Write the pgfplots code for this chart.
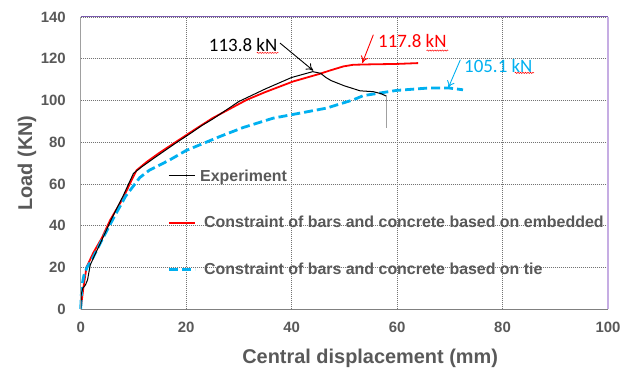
\documentclass[border=0pt]{standalone}
\usepackage{pgfplots}
\pgfplotsset{compat=1.18}
\usepackage{fontspec}
\setmainfont{Liberation Sans}
\newfontfamily\calibri{Carlito}
\usetikzlibrary{arrows.meta,decorations.pathmorphing}
\definecolor{txtgray}{HTML}{595959}
\definecolor{skyb}{HTML}{00B0F0}
\definecolor{purp}{HTML}{7A5AAE}
\definecolor{lav}{HTML}{C6ADE3}
\definecolor{axgray}{HTML}{A0A0A0}
\begin{document}
\begin{tikzpicture}
\path[use as bounding box] (-80.7bp,-63bp) rectangle (553.3bp,309bp);
\begin{axis}[
  scale only axis, width=527.3bp, height=292bp,
  at={(0,0)}, anchor=south west,
  xmin=0, xmax=100, ymin=0, ymax=140,
  xtick={0,20,...,100}, ytick={0,20,...,140},
  major tick length=0pt,
  grid=major,
  grid style={line width=0.6bp, dash pattern=on 1bp off 1bp, color=black!55},
  axis line style={draw=none},
  clip=false,
  /pgf/number format/assume math mode=true,
  tick label style={font=\fontsize{15}{18}\selectfont\bfseries, text=txtgray},
  xticklabel style={inner sep=0pt, anchor=center, yshift=-18bp},
  yticklabel style={inner sep=0pt, anchor=east, xshift=-14.7bp},
  xlabel={Central displacement (mm)},
  xlabel style={at={(axis description cs:0.549,-0.168)}, anchor=center, font=\fontsize{20}{24}\selectfont\bfseries, text=txtgray},
  ylabel={Load (KN)},
  ylabel style={at={(axis description cs:-0.102,0.5)}, anchor=center, font=\fontsize{20}{24}\selectfont\bfseries, text=txtgray},
  legend style={at={(axis cs:16.4,67)}, anchor=north west, draw=none, fill=none, inner sep=0pt,
    row sep=33.7bp, column sep=4bp,
    nodes={inner sep=0pt, font=\fontsize{16}{19}\selectfont\bfseries, text=txtgray}},
  legend cell align=left,
  legend image code/.code={\draw[#1] (0bp,0bp) -- (26bp,0bp);},
]
\addlegendimage{black, line width=1bp}
\addlegendentry{Experiment}
\addplot[red, line width=1.8bp] coordinates {
(0,0) (0.2,4) (0.5,10) (1.1,20) (2.4,27) (4,34) (5.6,42.7) (8,53) (9.7,62) (10.6,66.5) (12.5,70.5)
(15,75) (18,80) (21.3,85.5) (25,91.5) (31.5,100.3) (35,104) (40.3,109.1) (45.4,112.8) (47.2,114.3)
(49.8,116.3) (51.7,117.1) (55,117.3) (60,117.5) (64,117.9)};
\addlegendentry{\hspace{4bp}Constraint of bars and concrete based on embedded}
\addplot[skyb, line width=2.8bp, dash pattern=on 9bp off 4bp] coordinates {
(0,0) (0.2,10.7) (0.6,16) (1.2,20) (2.1,23.5) (4,33) (6.2,43.5) (8.5,54) (10,59) (11.2,63) (13,66.5)
(16.9,71.5) (20,76) (26.4,82.7) (30.8,87) (36.5,91.5) (40.3,93.3) (46.6,96.3) (51.7,100.3)
(53.6,102.3) (59.9,104.8) (66.2,106) (69.7,106) (72.5,105.1)};
\addlegendentry{\hspace{4bp}Constraint of bars and concrete based on tie}
\addplot[black, line width=1bp, forget plot] coordinates {
(0,0) (0.1,7) (0.4,10) (0.9,11.5) (1.3,14) (1.8,21) (2.5,25) (4,33) (6,44) (8,54) (10,65)
(11.5,68) (14,72.5) (18,79.5) (21,84.5) (23,88) (25,91) (30,99.5) (35,105.5) (40,111) (44,113.8)
(45.5,113) (46.5,111) (47.5,109.5) (50,107) (53,104.6) (55.5,104.2) (57,103.2) (58,102)};
\addplot[axgray, line width=1.5bp, forget plot] coordinates {(58,102) (58,87)};

\draw[axgray, line width=1bp] (rel axis cs:0,0) -- (rel axis cs:0,1);
\draw[purp, line width=1bp] (rel axis cs:0,1) -- (rel axis cs:1,1);
\draw[lav, line width=1.3bp] (rel axis cs:1,0) -- (rel axis cs:1,1);
\draw[gray, line width=1bp] (rel axis cs:0,0) -- (rel axis cs:1,0);

\node[font=\calibri\fontsize{19}{22}\selectfont] at (axis cs:30.8,126.5) {113.8 kN};
\draw[-{To[length=7bp,width=8bp]}, line width=0.9bp] (axis cs:37.8,127.5) -- (axis cs:44.1,114.3);
\node[font=\calibri\fontsize{19}{22}\selectfont, text=red] at (axis cs:62.9,128.3) {117.8 kN};
\draw[red, -{To[length=7bp,width=8bp]}, line width=0.9bp] (axis cs:55.5,131.5) -- (axis cs:53.4,117.9);
\node[font=\calibri\fontsize{19}{22}\selectfont, text=skyb] at (axis cs:79.2,116.3) {105.1 kN};
\draw[skyb, -{To[length=7bp,width=8bp]}, line width=0.9bp] (axis cs:72.0,119.5) -- (axis cs:69.7,106);
\draw[red, line width=0.5bp, decorate, decoration={snake, amplitude=0.6bp, segment length=2.5bp}] (axis cs:33.4,122.8) -- (axis cs:37.5,122.8);
\draw[red, line width=0.5bp, decorate, decoration={snake, amplitude=0.6bp, segment length=2.5bp}] (axis cs:65.6,123.9) -- (axis cs:69.7,123.9);
\draw[red, line width=0.5bp, decorate, decoration={snake, amplitude=0.6bp, segment length=2.5bp}] (axis cs:82.3,113.2) -- (axis cs:86.0,113.2);
\end{axis}
\end{tikzpicture}
\end{document}
